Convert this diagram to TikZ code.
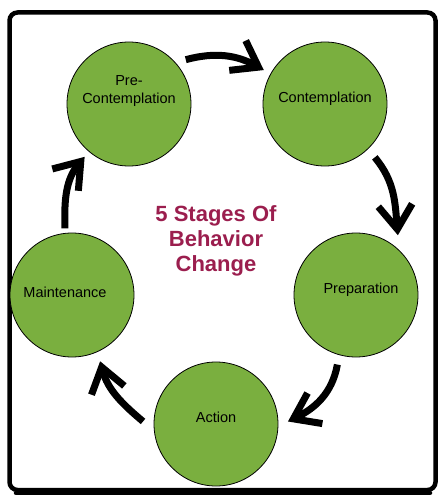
\documentclass[tikz,border=0pt]{standalone}
\usepackage{fontspec}
\setmainfont{Liberation Sans}
\usetikzlibrary{calc, arrows.meta, positioning}
\definecolor{stagegreen}{RGB}{122,175,63}
\definecolor{titlered}{RGB}{155,30,78}

\begin{document}
\begin{tikzpicture}[x=1pt, y=1pt,
        stage/.style={circle, draw=black, line width=0.8pt, fill=stagegreen, minimum size=124pt, inner sep=0pt},
        stagetext/.style={font=\fontsize{14.5}{18}\selectfont, align=center},
        stagearrow/.style={line width=7pt, -{Straight Barb[length=24pt,width=34pt]}}]
        \useasboundingbox (0,0) rectangle (446,-503);
        \draw[line width=4.5pt, rounded corners=8pt] (9.5,-12.5) rectangle (435.5,-490);
        \draw[line width=4.5pt, line cap=round] (16,-493) -- (430,-493);

        \node[stage, label={[stagetext, yshift=13pt]center:Pre-\\Contemplation}] (pre) at (129,-104) {};
        \node[stage, label={[stagetext, yshift=5pt]center:Contemplation}] (con) at (325,-104) {};
        \node[stage, label={[stagetext, xshift=5pt, yshift=5pt]center:Preparation}] (prep) at (356,-295) {};
        \node[stage, label={[stagetext, yshift=7pt]center:Action}] (act) at (216,-424) {};
        \node[stage, label={[stagetext, xshift=-7pt, yshift=3pt]center:Maintenance}] (mai) at (72,-295) {};

        \node[font=\bfseries\fontsize{22}{25}\selectfont, text=titlered, align=center] (title) at (216,-241) {5 Stages Of\\Behavior\\Change};

        \draw[stagearrow] ($(pre)+(38:72)$) to[out=15, in=151] ($(con)+(151:70)$);
        \draw[stagearrow] ($(con)+(-47:73)$) to[out=-50, in=95] ($(prep)+(55:73)$);
        \draw[stagearrow] ($(prep)+(-105:72)$) to[out=-100, in=26] ($(act)+(2:72)$);
        \draw[stagearrow] ($(act)+(178:73)$) to[out=140, in=-75] ($(mai)+(-67:72)$);
        \draw[stagearrow] ($(mai)+(96:67)$) to[out=92, in=230] ($(pre)+(230:69)$);
    \end{tikzpicture}
\end{document}
